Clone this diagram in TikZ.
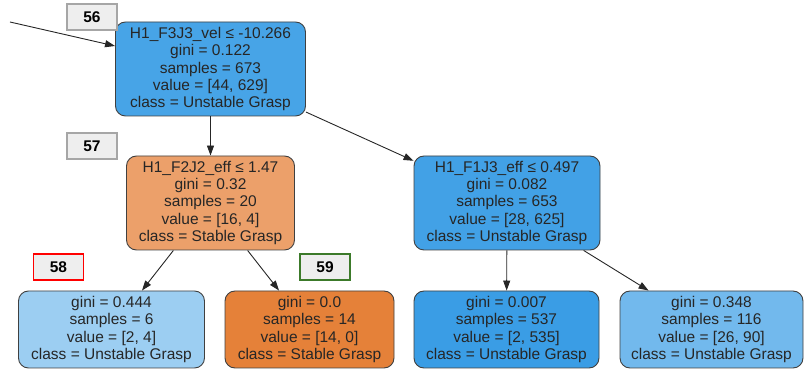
\documentclass[tikz,border=0pt]{standalone}
\usepackage{fontspec}
\setmainfont{Liberation Sans}
\usetikzlibrary{arrows.meta}

\definecolor{unstableA}{HTML}{47A4E7}
\definecolor{unstableB}{HTML}{42A1E6}
\definecolor{unstableC}{HTML}{3A9DE5}
\definecolor{unstableD}{HTML}{9CCEF2}
\definecolor{unstableE}{HTML}{72B9ED}
\definecolor{stableA}{HTML}{ECA06A}
\definecolor{stableB}{HTML}{E58139}
\definecolor{idgreen}{HTML}{3C7A2A}

\tikzset{
  split/.style={draw=black!75, line width=0.9pt, rounded corners=10pt, align=center,
    inner sep=0pt, minimum height=94pt, text=black!85,
    font=\fontsize{15.5}{17.2}\selectfont},
  leaf/.style={split, minimum height=77pt},
  idbox/.style={draw=gray!70, line width=1.2pt, fill=gray!13, minimum width=50pt,
    minimum height=26pt, inner sep=0pt, font=\fontsize{15.5}{17}\selectfont\bfseries},
  edge/.style={->, line width=0.9pt, black!85}
}

\begin{document}
\begin{tikzpicture}[x=1pt, y=-1pt, >={Stealth[length=10pt, width=7pt, inset=0pt]}]
  \useasboundingbox (0,0) rectangle (804,371);

  % split nodes
  \node[split, fill=unstableA, minimum width=190pt] (root) at (210.5,69)
    {H1\_F3J3\_vel ≤ -10.266\\gini = 0.122\\samples = 673\\value = [44, 629]\\class = Unstable Grasp};
  \node[split, fill=stableA, minimum width=168pt] (left) at (210.5,203)
    {H1\_F2J2\_eff ≤ 1.47\\gini = 0.32\\samples = 20\\value = [16, 4]\\class = Stable Grasp};
  \node[split, fill=unstableB, minimum width=186pt] (right) at (507,203)
    {H1\_F1J3\_eff ≤ 0.497\\gini = 0.082\\samples = 653\\value = [28, 625]\\class = Unstable Grasp};

  % leaves
  \node[leaf, fill=unstableD, minimum width=186pt] (ll) at (111.5,329.5)
    {gini = 0.444\\samples = 6\\value = [2, 4]\\class = Unstable Grasp};
  \node[leaf, fill=stableB, minimum width=169pt] (lr) at (309.5,329.5)
    {gini = 0.0\\samples = 14\\value = [14, 0]\\class = Stable Grasp};
  \node[leaf, fill=unstableC, minimum width=185pt] (rl) at (506.5,329.5)
    {gini = 0.007\\samples = 537\\value = [2, 535]\\class = Unstable Grasp};
  \node[leaf, fill=unstableE, minimum width=183pt] (rr) at (711.5,329.5)
    {gini = 0.348\\samples = 116\\value = [26, 90]\\class = Unstable Grasp};

  % node ids
  \node[idbox] (id56) at (92,17) {56};
  \node[idbox] (id57) at (92,146) {57};
  \node[idbox, draw=red, line width=1.8pt] (id58) at (58.5,267) {58};
  \node[idbox, draw=idgreen, line width=1.8pt] (id59) at (325,267) {59};

  % edges
  \coordinate (in) at (10,22);
  \draw[edge] (in) -- ([yshift=23pt]root.west);
  \draw[edge] (root) -- (left);
  \draw[edge] (root) -- (right);
  \draw[edge] (left) -- (ll);
  \draw[edge] (left) -- (lr);
  \draw[edge] (right) -- (rl);
  \draw[edge] (right) -- (rr);
\end{tikzpicture}
\end{document}
